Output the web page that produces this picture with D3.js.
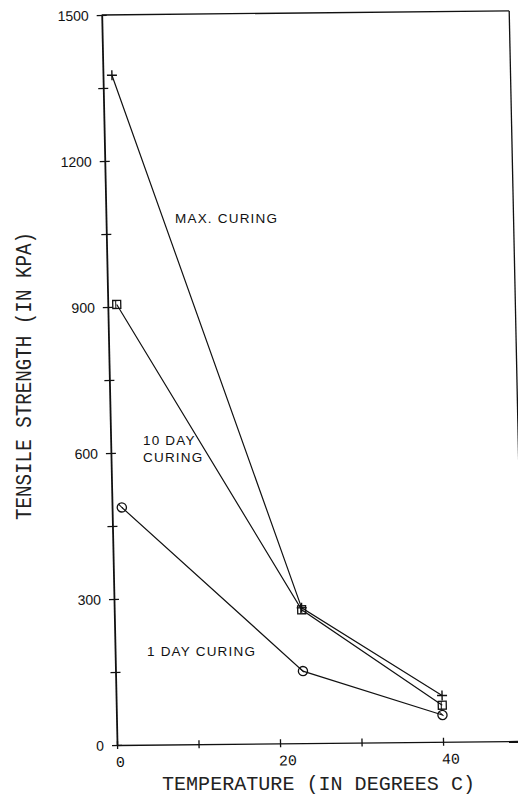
<!DOCTYPE html>
<html>
<head>
<meta charset="utf-8">
<script src="https://cdn.jsdelivr.net/npm/d3@7"></script>
<style>
  html, body { margin: 0; padding: 0; background: #fff; }
  svg { display: block; }
</style>
</head>
<body>
<svg id="chart" width="518" height="796"></svg>
<script>
// Temperature (deg C) at which each specimen set was tested
const temps = [1.1, 23, 40];
// Tensile strength (kPa) for each curing regime
const maxCuring = [1376, 278, 95];
const tenDayCuring = [905, 274, 75];
const oneDayCuring = [488, 148, 55];
const circleTemps = [1.2, 23, 40];

const yTickValues = [0, 150, 300, 450, 600, 750, 900, 1050, 1200, 1350, 1500];
const yTickLabels = ["0", "", "300", "", "600", "", "900", "", "1200", "", "1500"];
const xTickValues = [0, 10, 20, 30, 40];
const xTickLabels = ["0", "", "20", "", "40"];

const seriesNames = ["MAX. CURING", "10 DAY CURING", "1 DAY CURING"];

const svg = d3.select("#chart");
const W = 407.5, H = 730;

const x = d3.scaleLinear().domain([0, 50]).range([0, W]);
const y = d3.scaleLinear().domain([0, 1500]).range([H, 0]);

// plotter output is slightly sheared / rotated on the page
const plot = svg.append("g")
  .attr("transform", "matrix(1,-0.01,0.021,1,101.7,15)");

const ink = "#111";

// frame: top border, right border, x axis
plot.append("line").attr("x1", 0).attr("y1", 0).attr("x2", W).attr("y2", 0)
  .attr("stroke", ink).attr("stroke-width", 1.3);
plot.append("line").attr("x1", W).attr("y1", 0).attr("x2", W).attr("y2", H)
  .attr("stroke", ink).attr("stroke-width", 1.3);

// y axis
const yAxis = d3.axisLeft(y).tickValues(yTickValues).tickSize(0).tickFormat(() => "");
const ya = plot.append("g").call(yAxis);
ya.select(".domain").attr("stroke", ink).attr("stroke-width", 1.8);
ya.selectAll(".tick").each(function(d, i) {
  const t = d3.select(this);
  t.append("line").attr("x1", -5).attr("x2", 5).attr("y1", 0).attr("y2", 0)
    .attr("stroke", ink).attr("stroke-width", 1.3);
  t.append("text").attr("x", -13).attr("dy", "0.36em")
    .attr("text-anchor", "end")
    .attr("font-family", "'Liberation Sans', Arial, sans-serif")
    .attr("font-size", 14).attr("fill", ink)
    .text(yTickLabels[i]);
});

// x axis
const xAxis = d3.axisBottom(x).tickValues(xTickValues).tickSize(0).tickFormat(() => "");
const xa = plot.append("g").attr("transform", `translate(0,${H})`).call(xAxis);
xa.select(".domain").attr("stroke", ink).attr("stroke-width", 1.3);
xa.selectAll(".tick").each(function(d, i) {
  const t = d3.select(this);
  t.append("line").attr("x1", 0).attr("x2", 0).attr("y1", -4).attr("y2", 4)
    .attr("stroke", ink).attr("stroke-width", 1.3);
  t.append("text").attr("x", -2).attr("y", 22)
    .attr("text-anchor", "start")
    .attr("font-family", "'Liberation Mono', 'DejaVu Sans Mono', monospace")
    .attr("font-size", 15).attr("fill", ink)
    .text(xTickLabels[i]);
});

// series
const series = [
  { name: seriesNames[0], xs: temps, ys: maxCuring, marker: "plus" },
  { name: seriesNames[1], xs: temps, ys: tenDayCuring, marker: "square" },
  { name: seriesNames[2], xs: circleTemps, ys: oneDayCuring, marker: "circle" }
];

const line = d3.line().x(d => x(d[0])).y(d => y(d[1]));

series.forEach(s => {
  const pts = s.xs.map((v, i) => [v, s.ys[i]]);
  plot.append("path").datum(pts).attr("d", line)
    .attr("fill", "none").attr("stroke", ink).attr("stroke-width", 1.2);
  const m = plot.append("g").selectAll("g").data(pts).join("g")
    .attr("transform", d => `translate(${x(d[0])},${y(d[1])})`);
  if (s.marker === "plus") {
    m.append("path").attr("d", "M-5,0H5M0,-5V5")
      .attr("stroke", ink).attr("stroke-width", 1.4).attr("fill", "none");
  } else if (s.marker === "square") {
    m.append("rect").attr("x", -4).attr("y", -4).attr("width", 8).attr("height", 8)
      .attr("stroke", ink).attr("stroke-width", 1.3).attr("fill", "none");
    m.append("path").attr("d", "M-1,-4V4")
      .attr("stroke", ink).attr("stroke-width", 1).attr("fill", "none");
  } else {
    m.append("circle").attr("r", 4.6)
      .attr("stroke", ink).attr("stroke-width", 1.3).attr("fill", "none");
    m.append("path").attr("d", "M-3,-3L1,1")
      .attr("stroke", ink).attr("stroke-width", 1).attr("fill", "none");
  }
});

// curve annotations
const ann = svg.append("g")
  .attr("font-family", "'Liberation Sans', Arial, sans-serif")
  .attr("font-size", 13.5).attr("letter-spacing", 1.2).attr("fill", ink);
ann.append("text").attr("x", 175).attr("y", 222.5).text(seriesNames[0]);
ann.append("text").attr("x", 143).attr("y", 444.5).text("10 DAY");
ann.append("text").attr("x", 143).attr("y", 461.5).text("CURING");
ann.append("text").attr("x", 147).attr("y", 655.5).text(seriesNames[2]);

// axis titles (thin plotter-style lettering)
svg.append("text")
  .attr("transform", "translate(318.5,790)")
  .attr("text-anchor", "middle")
  .attr("font-family", "'Liberation Mono', 'DejaVu Sans Mono', monospace")
  .attr("font-size", 20).attr("fill", "#222")
  .attr("textLength", 313).attr("lengthAdjust", "spacingAndGlyphs")
  .text("TEMPERATURE (IN DEGREES C)");

svg.append("text")
  .attr("transform", "translate(31,376) rotate(-90) scale(1,1.12)")
  .attr("text-anchor", "middle")
  .attr("font-family", "'Liberation Mono', 'DejaVu Sans Mono', monospace")
  .attr("font-size", 19).attr("fill", "#222")
  .attr("textLength", 288).attr("lengthAdjust", "spacingAndGlyphs")
  .text("TENSILE STRENGTH (IN KPA)");
</script>
</body>
</html>
